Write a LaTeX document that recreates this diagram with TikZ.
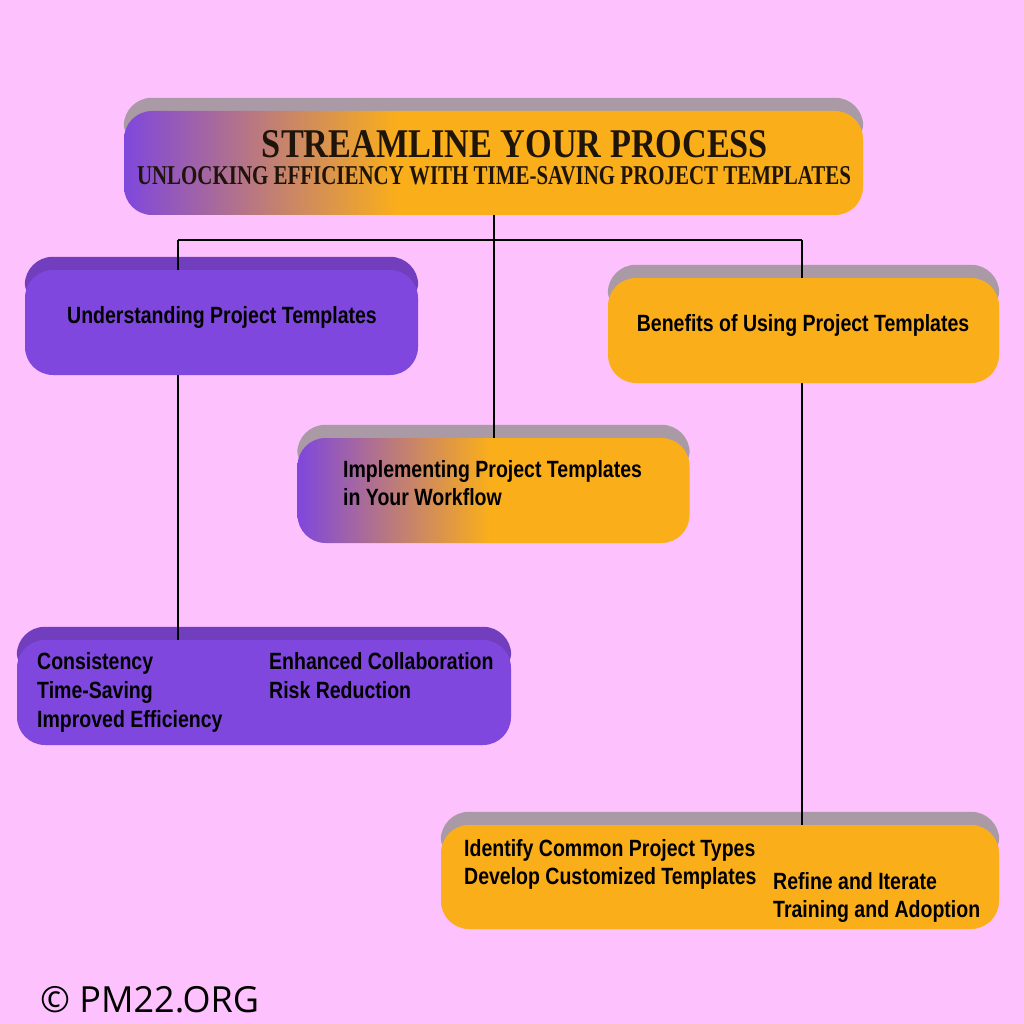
\documentclass[tikz,border=0pt]{standalone}
\usepackage{fontspec}
\usepackage{graphicx}
\setmainfont{Liberation Sans}
\newfontfamily\narrowfont[FakeStretch=0.83]{Liberation Sans}
\newfontfamily\copyfont{Open Sans}
\newfontfamily\titlefont{Liberation Serif}
\definecolor{bgpink}{RGB}{253,193,253}
\definecolor{purp}{RGB}{127,71,221}
\definecolor{tabpurp}{RGB}{113,62,190}
\definecolor{orng}{RGB}{250,174,26}
\definecolor{tabgray}{RGB}{170,154,165}
\definecolor{titletext}{RGB}{30,20,10}
\pgfdeclarehorizontalshading{gradTitle}{100bp}{color(0bp)=(purp); color(25bp)=(purp); color(43.5bp)=(orng); color(100bp)=(orng)}
\pgfdeclarehorizontalshading{gradImpl}{100bp}{color(0bp)=(purp); color(25bp)=(purp); color(49.5bp)=(orng); color(100bp)=(orng)}
\tikzset{
  box/.style={rectangle, rounded corners=28pt, inner sep=0pt, draw=none},
  lbl/.style={anchor=base west, inner sep=0pt, font=\narrowfont\fontsize{23.5}{23.5}\selectfont\bfseries},
  lblc/.style={anchor=base, inner sep=0pt, font=\narrowfont\fontsize{23.5}{23.5}\selectfont\bfseries},
  conn/.style={line width=2pt, black},
}
\newcommand{\boxtab}[2]{\fill[#2, rounded corners=28pt] ([yshift=13pt]#1.north west) rectangle ([yshift=-40pt]#1.north east);}
\begin{document}
\begin{tikzpicture}[x=1pt,y=-1pt]
\useasboundingbox (0,0) rectangle (1024,1024);
\fill[bgpink] (0,0) rectangle (1024,1024);

% box frames (placed first so that tabs and connectors can refer to them)
\path
  node[box, minimum width=739pt, minimum height=104pt] (title) at (493.5,163) {}
  node[box, minimum width=393pt, minimum height=105pt] (und) at (221.5,322.5) {}
  node[box, minimum width=391pt, minimum height=105pt] (ben) at (803.5,330.5) {}
  node[box, minimum width=392pt, minimum height=105pt] (impl) at (493.5,490.5) {}
  node[box, minimum width=494pt, minimum height=105pt] (bl) at (264,692.5) {}
  node[box, minimum width=558pt, minimum height=104pt] (br) at (720,877) {};

% tabs
\boxtab{title}{tabgray}
\boxtab{und}{tabpurp}
\boxtab{ben}{tabgray}
\boxtab{impl}{tabgray}
\boxtab{bl}{tabpurp}
\boxtab{br}{tabgray}

% connectors
\coordinate (j1) at (178,240);
\coordinate (j2) at (802,240);
\draw[conn] (title.south) -- (title.south |- impl.north);
\draw[conn] (j1) -- (j2);
\draw[conn] (j1) -- (j1 |- und.north);
\draw[conn] (j2) -- (j2 |- ben.north);
\draw[conn] (j1 |- und.south) -- (j1 |- bl.north);
\draw[conn] (j2 |- ben.south) -- (j2 |- br.north);

% main boxes
\node[box, shading=gradTitle, minimum width=739pt, minimum height=104pt] at (title) {};
\node[box, fill=purp, minimum width=393pt, minimum height=105pt] at (und) {};
\node[box, fill=orng, minimum width=391pt, minimum height=105pt] at (ben) {};
\node[box, shading=gradImpl, minimum width=392pt, minimum height=105pt] at (impl) {};
\node[box, fill=purp, minimum width=494pt, minimum height=105pt] at (bl) {};
\node[box, fill=orng, minimum width=558pt, minimum height=104pt] at (br) {};

% title texts
\node[anchor=base, inner sep=0pt, text=titletext] (t1) at (515,157.5) {\resizebox{506pt}{27pt}{\titlefont\bfseries STREAMLINE YOUR PROCESS}};
\node[anchor=base, inner sep=0pt, text=titletext] (t2) at (494,184.5) {\resizebox{714pt}{18pt}{\titlefont\bfseries UNLOCKING EFFICIENCY WITH TIME-SAVING PROJECT TEMPLATES}};

% labels
\node[lblc] (l1) at (222,323.5) {Understanding Project Templates};
\node[lblc] (l2) at (803,331) {Benefits of Using Project Templates};
\node[lbl] (l3a) at (343,477) {Implementing Project Templates};
\node[lbl] (l3b) at (343,505) {in Your Workflow};

\node[lbl] (c1) at (37,669) {Consistency};
\node[lbl] (c2) at (37,698) {Time-Saving};
\node[lbl] (c3) at (37,727) {Improved Efficiency};
\node[lbl] (c4) at (269,669) {Enhanced Collaboration};
\node[lbl] (c5) at (269,698) {Risk Reduction};

\node[lbl] (d1) at (464,856) {Identify Common Project Types};
\node[lbl] (d2) at (464,884) {Develop Customized Templates};
\node[lbl] (d3) at (773,889) {Refine and Iterate};
\node[lbl] (d4) at (773,917) {Training and Adoption};

\node[anchor=base west, inner sep=0pt, font=\copyfont\fontsize{36}{36}\selectfont] (copy) at (40,1012) {© PM22.ORG};
\end{tikzpicture}
\end{document}
